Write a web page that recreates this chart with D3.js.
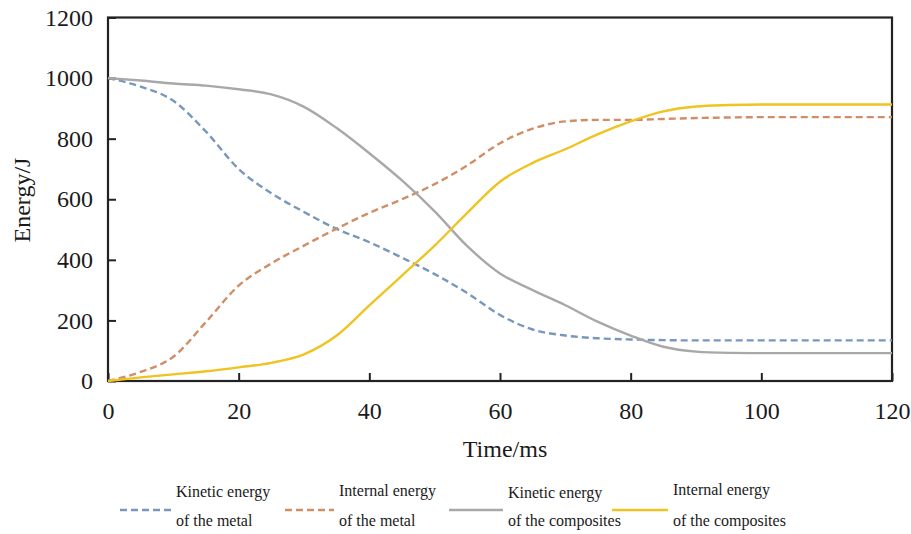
<!DOCTYPE html>
<html>
<head>
<meta charset="utf-8">
<script src="https://cdn.jsdelivr.net/npm/d3@7"></script>
<style>
  body { margin: 0; background: #fff; }
  text { font-family: "Liberation Serif", "Times New Roman", serif; fill: #1a1a1a; }
</style>
</head>
<body>
<div id="chart"></div>
<script>
const times = [0, 5, 10, 15, 20, 25, 30, 35, 40, 45, 50, 55, 60, 65, 70, 75, 80, 85, 90, 95, 100, 105, 110, 115, 120];
const kineticMetal = [1000, 972, 925, 823, 700, 620, 558, 502, 458, 407, 353, 290, 218, 170, 150, 141, 137, 135, 134, 134, 134, 134, 134, 134, 134];
const internalMetal = [0, 30, 80, 195, 315, 388, 447, 503, 555, 600, 650, 712, 785, 833, 857, 862, 862, 865, 868, 870, 871, 871, 871, 871, 871];
const kineticComposites = [1000, 992, 982, 975, 963, 946, 905, 835, 752, 662, 560, 445, 355, 300, 250, 195, 150, 113, 97, 93, 92, 92, 92, 92, 92];
const internalComposites = [0, 12, 22, 32, 45, 60, 88, 150, 250, 348, 447, 555, 658, 720, 765, 815, 857, 890, 906, 911, 913, 913, 913, 913, 913];

const xTicks = [0, 20, 40, 60, 80, 100, 120];
const yTicks = [0, 200, 400, 600, 800, 1000, 1200];

const seriesNames = [
  ['Kinetic energy', 'of the metal'],
  ['Internal energy', 'of the metal'],
  ['Kinetic energy', 'of the composites'],
  ['Internal energy', 'of the composites']
];
const seriesValues = [kineticMetal, internalMetal, kineticComposites, internalComposites];
const colors = ['#7898bb', '#d08e67', '#a8a8a8', '#efc321'];
const dashes = ['7,4', '7,4', null, null];

const width = 911, height = 534;
const serif = '"Liberation Serif", "Times New Roman", serif';
const svg = d3.select('#chart').append('svg')
    .attr('width', width)
    .attr('height', height);

const x = d3.scaleLinear().domain([0, 120]).range([108, 892]);
const y = d3.scaleLinear().domain([0, 1200]).range([381, 17.5]);

// axes with inward ticks
svg.append('g')
    .attr('transform', `translate(0,${y(0)})`)
    .call(d3.axisBottom(x).tickValues(xTicks).tickFormat(d3.format('d'))
        .tickSizeInner(-8).tickSizeOuter(0).tickPadding(21))
    .attr('font-family', serif)
    .call(g => g.select('.domain').remove())
    .call(g => g.selectAll('line').attr('stroke', '#222').attr('stroke-width', 2))
    .call(g => g.selectAll('text').style('font-size', '24px').attr('fill', '#1a1a1a'));

svg.append('g')
    .attr('transform', `translate(${x(0)},0)`)
    .call(d3.axisLeft(y).tickValues(yTicks).tickFormat(d3.format('d'))
        .tickSizeInner(-8).tickSizeOuter(0).tickPadding(15))
    .attr('font-family', serif)
    .call(g => g.select('.domain').remove())
    .call(g => g.selectAll('line').attr('stroke', '#222').attr('stroke-width', 2))
    .call(g => g.selectAll('text').style('font-size', '24px').attr('fill', '#1a1a1a'));

// frame
svg.append('rect')
    .attr('x', x(0))
    .attr('y', y(1200))
    .attr('width', x(120) - x(0))
    .attr('height', y(0) - y(1200))
    .attr('fill', 'none')
    .attr('stroke', '#222')
    .attr('stroke-width', 2.2);

const line = d3.line()
    .x((d, i) => x(times[i]))
    .y(d => y(d))
    .curve(d3.curveMonotoneX);

seriesValues.forEach((vals, i) => {
  svg.append('path')
      .datum(vals)
      .attr('d', line)
      .attr('fill', 'none')
      .attr('stroke', colors[i])
      .attr('stroke-width', 2.4)
      .attr('stroke-dasharray', dashes[i]);
});

// axis titles
svg.append('text')
    .attr('x', 505)
    .attr('y', 457)
    .attr('text-anchor', 'middle')
    .style('font-size', '24px')
    .text('Time/ms');

svg.append('text')
    .attr('transform', 'translate(30,200) rotate(-90)')
    .attr('text-anchor', 'middle')
    .style('font-size', '24px')
    .text('Energy/J');

// legend
const legendX = [120, 285, 449, 612];
const legendLen = [51, 49, 54, 56];
const legendTop = [497, 496, 498, 495];
seriesNames.forEach((names, i) => {
  const g = svg.append('g');
  g.append('line')
      .attr('x1', legendX[i])
      .attr('x2', legendX[i] + legendLen[i])
      .attr('y1', 510)
      .attr('y2', 510)
      .attr('stroke', colors[i])
      .attr('stroke-width', 2.4)
      .attr('stroke-dasharray', dashes[i]);
  g.append('text')
      .attr('x', legendX[i] + legendLen[i] + 5)
      .attr('y', legendTop[i])
      .style('font-size', '16px')
      .text(names[0]);
  g.append('text')
      .attr('x', legendX[i] + legendLen[i] + 5)
      .attr('y', 526)
      .style('font-size', '16px')
      .text(names[1]);
});
</script>
</body>
</html>
